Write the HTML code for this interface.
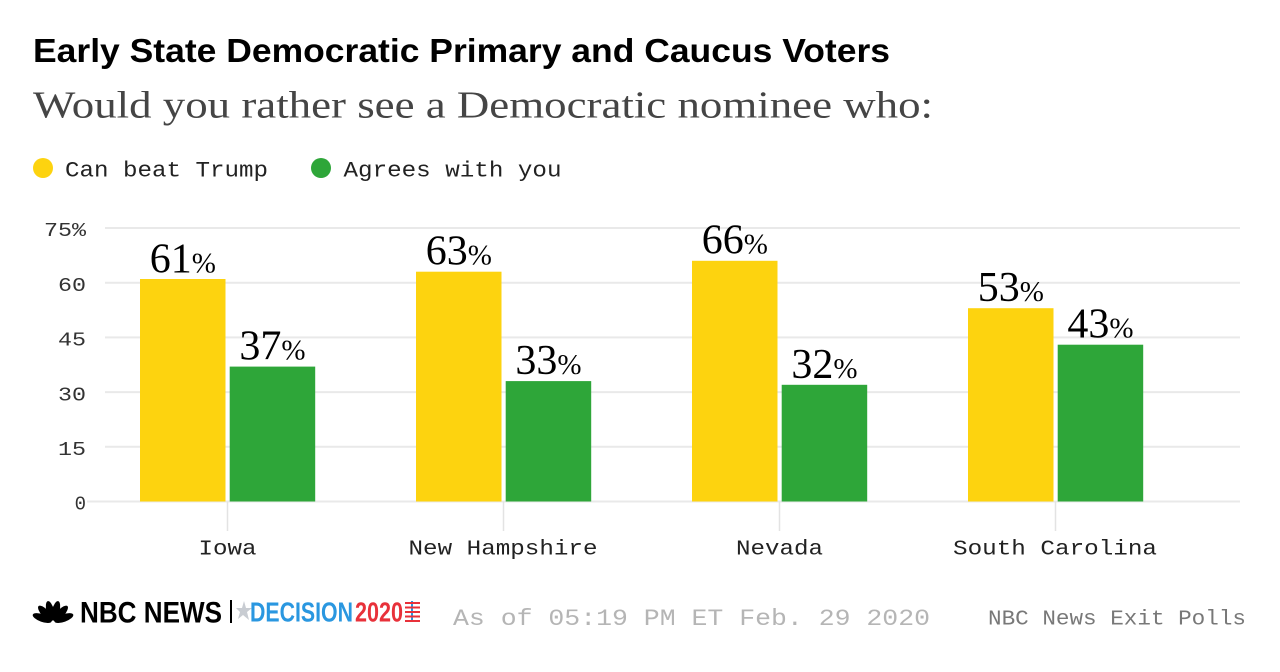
<!DOCTYPE html>
<html>
<head>
<meta charset="utf-8">
<style>
  html,body{margin:0;padding:0;background:#fff;}
  svg{display:block;}
</style>
</head>
<body>
<svg width="1280" height="672" viewBox="0 0 1280 672" xmlns="http://www.w3.org/2000/svg">
  <rect x="0" y="0" width="1280" height="672" fill="#ffffff"/>

  <!-- Title -->
  <text x="33" y="62" font-family="Liberation Sans, sans-serif" font-weight="bold" font-size="33" fill="#000" textLength="857" lengthAdjust="spacingAndGlyphs">Early State Democratic Primary and Caucus Voters</text>
  <!-- Subtitle -->
  <text x="33" y="117.5" font-family="Liberation Serif, serif" font-size="38" fill="#454545" textLength="900" lengthAdjust="spacingAndGlyphs">Would you rather see a Democratic nominee who:</text>

  <!-- Legend -->
  <circle cx="43" cy="168" r="10" fill="#FDD30F"/>
  <text x="65" y="176.5" font-family="Liberation Mono, monospace" font-size="22" fill="#222" textLength="203" lengthAdjust="spacingAndGlyphs">Can beat Trump</text>
  <circle cx="321" cy="168" r="10" fill="#2EA639"/>
  <text x="343.5" y="176.5" font-family="Liberation Mono, monospace" font-size="22" fill="#222" textLength="218" lengthAdjust="spacingAndGlyphs">Agrees with you</text>

  <!-- Gridlines -->
  <g stroke="#e9e9e9" stroke-width="2">
    <line x1="105" y1="228" x2="1240" y2="228"/>
    <line x1="105" y1="282.8" x2="1240" y2="282.8"/>
    <line x1="105" y1="337.4" x2="1240" y2="337.4"/>
    <line x1="105" y1="392.1" x2="1240" y2="392.1"/>
    <line x1="105" y1="446.8" x2="1240" y2="446.8"/>
    <line x1="87" y1="501.5" x2="1240" y2="501.5"/>
  </g>

  <!-- Y tick labels -->
  <g font-family="Liberation Mono, monospace" font-size="19" fill="#333" text-anchor="end">
    <text x="86" y="236" textLength="42" lengthAdjust="spacingAndGlyphs">75%</text>
    <text x="86" y="291" textLength="28" lengthAdjust="spacingAndGlyphs">60</text>
    <text x="86" y="345.6" textLength="28" lengthAdjust="spacingAndGlyphs">45</text>
    <text x="86" y="400.3" textLength="28" lengthAdjust="spacingAndGlyphs">30</text>
    <text x="86" y="455" textLength="28" lengthAdjust="spacingAndGlyphs">15</text>
    <text x="86" y="509.7">0</text>
  </g>

  <!-- Category tick marks -->
  <g stroke="#e3e3e3" stroke-width="1.5">
    <line x1="227.5" y1="501.5" x2="227.5" y2="531"/>
    <line x1="503.5" y1="501.5" x2="503.5" y2="531"/>
    <line x1="779.5" y1="501.5" x2="779.5" y2="531"/>
    <line x1="1055.5" y1="501.5" x2="1055.5" y2="531"/>
  </g>

  <!-- Bars -->
  <rect x="140" y="279" width="85.5" height="222.5" fill="#FDD30F"/>
  <rect x="229.7" y="366.6" width="85.5" height="134.9" fill="#2EA639"/>
  <rect x="416" y="271.7" width="85.5" height="229.8" fill="#FDD30F"/>
  <rect x="505.7" y="381.1" width="85.5" height="120.4" fill="#2EA639"/>
  <rect x="692" y="260.8" width="85.5" height="240.7" fill="#FDD30F"/>
  <rect x="781.7" y="384.8" width="85.5" height="116.7" fill="#2EA639"/>
  <rect x="968" y="308.2" width="85.5" height="193.3" fill="#FDD30F"/>
  <rect x="1057.7" y="344.7" width="85.5" height="156.8" fill="#2EA639"/>

  <!-- Value labels -->
  <g font-family="Liberation Serif, serif" fill="#000" text-anchor="middle">
    <text x="182.8" y="272.5" font-size="42">61<tspan font-size="29">%</tspan></text>
    <text x="272.5" y="359.6" font-size="42">37<tspan font-size="29">%</tspan></text>
    <text x="458.8" y="264.7" font-size="42">63<tspan font-size="29">%</tspan></text>
    <text x="548.5" y="374.1" font-size="42">33<tspan font-size="29">%</tspan></text>
    <text x="734.8" y="253.5" font-size="42">66<tspan font-size="29">%</tspan></text>
    <text x="824.5" y="377.8" font-size="42">32<tspan font-size="29">%</tspan></text>
    <text x="1010.8" y="301.2" font-size="42">53<tspan font-size="29">%</tspan></text>
    <text x="1100.5" y="337.7" font-size="42">43<tspan font-size="29">%</tspan></text>
  </g>

  <!-- Category labels -->
  <g font-family="Liberation Mono, monospace" font-size="21" fill="#222" text-anchor="middle">
    <text x="227.5" y="554.5" textLength="58" lengthAdjust="spacingAndGlyphs">Iowa</text>
    <text x="503" y="554.5" textLength="189" lengthAdjust="spacingAndGlyphs">New Hampshire</text>
    <text x="779.5" y="554.5" textLength="87" lengthAdjust="spacingAndGlyphs">Nevada</text>
    <text x="1055" y="554.5" textLength="204" lengthAdjust="spacingAndGlyphs">South Carolina</text>
  </g>

  <!-- Footer: NBC News logo -->
  <g transform="translate(53,622)" fill="#000">
    <ellipse cx="0" cy="-11.5" rx="3.8" ry="10" transform="rotate(-70)"/>
    <ellipse cx="0" cy="-11.5" rx="3.8" ry="10" transform="rotate(-42)"/>
    <ellipse cx="0" cy="-11.5" rx="3.8" ry="10" transform="rotate(-14)"/>
    <ellipse cx="0" cy="-11.5" rx="3.8" ry="10" transform="rotate(14)"/>
    <ellipse cx="0" cy="-11.5" rx="3.8" ry="10" transform="rotate(42)"/>
    <ellipse cx="0" cy="-11.5" rx="3.8" ry="10" transform="rotate(70)"/>
  </g>
  <text x="80" y="622.3" font-family="Liberation Sans, sans-serif" font-weight="bold" font-size="30" fill="#000" textLength="142" lengthAdjust="spacingAndGlyphs">NBC NEWS</text>
  <rect x="230" y="600" width="2" height="23" fill="#000"/>
  <polygon points="244,601 246,608 252,608 247,612 249,620 243,615 238,619 240,612 236,608 242,608" fill="#c8ccd2"/>
  <text x="250" y="621.7" font-family="Liberation Sans, sans-serif" font-weight="bold" font-size="28" fill="#2A97E0" textLength="103" lengthAdjust="spacingAndGlyphs">DECISION</text>
  <text x="355" y="621.7" font-family="Liberation Sans, sans-serif" font-weight="bold" font-size="28" fill="#E8313A" textLength="48" lengthAdjust="spacingAndGlyphs">2020</text>
  <g stroke-width="2">
    <line x1="412" y1="601" x2="412" y2="622" stroke="#2A97E0"/>
    <line x1="405" y1="603" x2="420" y2="603" stroke="#E8313A"/>
    <line x1="405" y1="607.5" x2="420" y2="607.5" stroke="#E8313A"/>
    <line x1="405" y1="612" x2="420" y2="612" stroke="#E8313A"/>
    <line x1="405" y1="616.5" x2="420" y2="616.5" stroke="#E8313A"/>
    <line x1="405" y1="621" x2="420" y2="621" stroke="#E8313A"/>
  </g>

  <!-- Footer texts -->
  <text x="453" y="625" font-family="Liberation Mono, monospace" font-size="23" fill="#b5b5b5" textLength="477" lengthAdjust="spacingAndGlyphs">As of 05:19 PM ET Feb. 29 2020</text>
  <text x="988" y="624.5" font-family="Liberation Mono, monospace" font-size="21" fill="#787878" textLength="258" lengthAdjust="spacingAndGlyphs">NBC News Exit Polls</text>
</svg>
</body>
</html>
